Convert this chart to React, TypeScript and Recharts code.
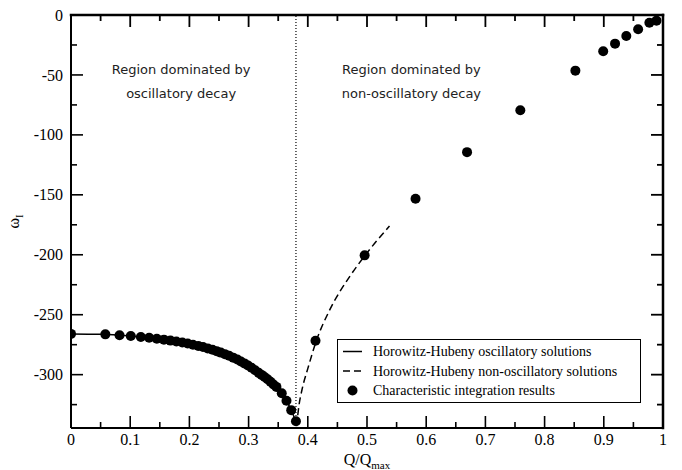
import React from 'react'
import { ComposedChart, Line, Scatter, XAxis, YAxis, ReferenceLine, ReferenceDot, Legend } from 'recharts'

// axis ticks
const xMajor = [0, 0.1, 0.2, 0.3, 0.4, 0.5, 0.6, 0.7, 0.8, 0.9, 1]
const xMinor = [0.05, 0.15, 0.25, 0.35, 0.45, 0.55, 0.65, 0.75, 0.85, 0.95]
const yMajor = [-300, -250, -200, -150, -100, -50, 0]
const yMinor = [-325, -275, -225, -175, -125, -75, -25]

// characteristic integration results
const integrationQ = [
  0, 0.058, 0.082, 0.101, 0.118, 0.132, 0.145, 0.157, 0.168, 0.178, 0.188, 0.197, 0.206, 0.215, 0.223,
  0.231, 0.239, 0.246, 0.253, 0.26, 0.267, 0.274, 0.281, 0.287, 0.293, 0.299, 0.305, 0.311, 0.317, 0.322,
  0.327, 0.332, 0.337, 0.342, 0.347, 0.356, 0.364, 0.372, 0.38, 0.413, 0.496, 0.582, 0.669, 0.759, 0.852,
  0.899, 0.919, 0.938, 0.958, 0.977, 0.989,
]
const integrationOmega = [
  -266, -266.4, -267.2, -267.8, -268.6, -269.2, -270, -270.8, -271.6, -272.4, -273.2, -274, -275, -276, -277,
  -278.1, -279.3, -280.4, -281.6, -282.9, -284.3, -285.8, -287.4, -289, -290.6, -292.4, -294.3, -296.3, -298.5, -300.2,
  -301.9, -303.8, -305.9, -308.2, -310.2, -315.5, -321.8, -329.6, -338.9, -271.7, -200.5, -153.3, -114.4, -79.4, -46.4,
  -30.3, -23.9, -17.5, -11.9, -6.4, -4.7,
]

// Horowitz-Hubeny oscillatory branch
const oscQ = [0, 0.05, 0.1, 0.15, 0.2, 0.25, 0.28, 0.3, 0.32, 0.33, 0.34, 0.35, 0.36, 0.37, 0.375, 0.381]
const oscOmega = [-266, -266.3, -267.8, -270.3, -274.3, -281, -287.2, -292.8, -299.6, -303.3, -307.6, -312.5, -318.7, -327.5, -333, -342]

// Horowitz-Hubeny non-oscillatory branch
const nonOscQ = [0.381, 0.385, 0.39, 0.4, 0.415, 0.437, 0.471, 0.496, 0.538]
const nonOscOmega = [-343, -326, -313, -295, -271, -246, -218, -201, -176]

const transitionQ = 0.38

const regionQ = [0.186, 0.575]
const regionLines = [
  ['Region dominated by', 'oscillatory decay'],
  ['Region dominated by', 'non-oscillatory decay'],
]

const legendLabels = [
  'Horowitz-Hubeny oscillatory solutions',
  'Horowitz-Hubeny non-oscillatory solutions',
  'Characteristic integration results',
]

const integrationData = integrationQ.map((q, i) => ({ x: q, y: integrationOmega[i] }))
const oscData = oscQ.map((q, i) => ({ x: q, y: oscOmega[i] }))
const nonOscData = nonOscQ.map((q, i) => ({ x: q, y: nonOscOmega[i] }))
const xTicks = [...xMajor, ...xMinor].sort((a, b) => a - b)
const yTicks = [...yMajor, ...yMinor].sort((a, b) => a - b)

const W = 682
const H = 470
const MARGIN = { top: 15, right: 19, bottom: 12, left: 11 }
const PLOT_TOP = MARGIN.top
const PLOT_RIGHT = W - MARGIN.right

const serif = '"Liberation Serif", "Times New Roman", serif'
const INK = '#000'
const FRAME_W = 2
const EDGE_W = 2.5
const TICK_W = 1.6
const AXIS = { stroke: INK, strokeWidth: FRAME_W }
const MAJOR = 12
const MINOR = 6

const isMajorX = (v: number) => xMajor.some((m) => Math.abs(m - v) < 1e-9)
const isMajorY = (v: number) => yMajor.includes(v)

// bottom tick + mirrored tick on the top edge
function BottomTick(props: any) {
  const { x, y, payload } = props
  const len = isMajorX(payload.value) ? MAJOR : MINOR
  return (
    <g>
      <line x1={x} x2={x} y1={y} y2={y - len} stroke={INK} strokeWidth={TICK_W} />
      <rect x={x - 0.9} y={PLOT_TOP} width={1.8} height={len} fill={INK} />
      {len === MAJOR && (
        <text x={x} y={y + 17} textAnchor="middle" fontFamily={serif} fontSize={16} fill={INK}>
          {String(payload.value)}
        </text>
      )}
    </g>
  )
}

// left tick + mirrored tick on the right edge
function LeftTick(props: any) {
  const { x, y, payload } = props
  const len = isMajorY(payload.value) ? MAJOR : MINOR
  return (
    <g>
      <line x1={x} x2={x + len} y1={y} y2={y} stroke={INK} strokeWidth={TICK_W} />
      <rect x={PLOT_RIGHT - len} y={y - 0.9} width={len} height={1.8} fill={INK} />
      {len === MAJOR && (
        <text x={x - 8} y={y} dy="0.35em" textAnchor="end" fontFamily={serif} fontSize={16} fill={INK}>
          {String(payload.value)}
        </text>
      )}
    </g>
  )
}

const Dot = (props: any) => <circle cx={props.cx} cy={props.cy} r={5} fill={INK} />

function LegendBox() {
  const rows = [12.5, 32, 51.5]
  return (
    <svg width={304} height={64} style={{ display: 'block' }}>
      <rect x={0.5} y={0.5} width={303} height={63} fill="#fff" stroke={INK} strokeWidth={1} />
      <line x1={6} x2={25} y1={rows[0]} y2={rows[0]} stroke={INK} strokeWidth={1.5} />
      <line x1={6} x2={25} y1={rows[1]} y2={rows[1]} stroke={INK} strokeWidth={1.5} strokeDasharray="7 4" />
      <circle cx={15.5} cy={rows[2]} r={5} fill={INK} />
      {legendLabels.map((t, i) => (
        <text key={t} x={36} y={rows[i]} dy="0.35em" fontFamily={serif} fontSize={14} fill={INK}>
          {t}
        </text>
      ))}
    </svg>
  )
}

function RegionLabel(lines: string[]) {
  return (props: any) => {
    const { viewBox } = props
    const cx = viewBox.x + viewBox.width / 2
    const cy = viewBox.y + viewBox.height / 2
    return (
      <text textAnchor="middle" fontFamily='"DejaVu Sans", sans-serif' fontSize={13} fill="#222">
        <tspan x={cx} y={cy} dy="0.35em">{lines[0]}</tspan>
        <tspan x={cx} y={cy + 24} dy="0.35em">{lines[1]}</tspan>
      </text>
    )
  }
}

function YTitle(props: any) {
  const { viewBox } = props
  const cx = viewBox.x + 8
  const cy = viewBox.y + viewBox.height / 2
  return (
    <text transform={`translate(${cx},${cy}) rotate(-90)`} textAnchor="middle" fontFamily={serif} fontSize={16} fill={INK}>
      ω<tspan fontSize={11} dy={4}>I</tspan>
    </text>
  )
}

// x title, plus the top and right edges of the frame (filled bars)
function XTitle(props: any) {
  const { viewBox } = props
  const cx = viewBox.x + viewBox.width / 2
  const right = viewBox.x + viewBox.width
  const h = EDGE_W / 2
  return (
    <g>
      <rect x={viewBox.x - h} y={PLOT_TOP - h} width={viewBox.width + EDGE_W} height={EDGE_W} fill={INK} />
      <rect x={right - h} y={PLOT_TOP - h} width={EDGE_W} height={viewBox.y - PLOT_TOP + EDGE_W} fill={INK} />
      <text x={cx} y={viewBox.y + 37} textAnchor="middle" fontFamily={serif} fontSize={16} fill={INK}>
        Q/Q<tspan fontSize={11} dy={4}>max</tspan>
      </text>
    </g>
  )
}

export default function App() {
  return (
    <div style={{ position: 'absolute', left: 0, top: 0, background: '#fff' }}>
      <ComposedChart width={W} height={H} margin={MARGIN}>
        <XAxis
          dataKey="x"
          type="number"
          domain={[0, 1]}
          ticks={xTicks}
          interval={0}
          allowDataOverflow
          axisLine={AXIS}
          tickLine={false}
          tickSize={0}
          tickMargin={0}
          tick={<BottomTick />}
          height={30}
          label={<XTitle />}
        />
        <YAxis
          dataKey="y"
          type="number"
          domain={[-344.5, 0]}
          ticks={yTicks}
          interval={0}
          allowDataOverflow
          axisLine={AXIS}
          tickLine={false}
          tickSize={0}
          tickMargin={0}
          tick={<LeftTick />}
          width={60}
          label={<YTitle />}
        />
        <ReferenceLine x={transitionQ} stroke={INK} strokeWidth={1.2} strokeDasharray="1 2" />
        {regionQ.map((q, i) => (
          <ReferenceDot
            key={q}
            x={q}
            y={-45.8}
            r={0}
            fill="none"
            stroke="none"
            ifOverflow="visible"
            label={RegionLabel(regionLines[i])}
          />
        ))}
        <Line
          data={oscData}
          dataKey="y"
          type="monotone"
          stroke={INK}
          strokeWidth={1.5}
          dot={false}
          activeDot={false}
          isAnimationActive={false}
          legendType="none"
        />
        <Line
          data={nonOscData}
          dataKey="y"
          type="monotone"
          stroke={INK}
          strokeWidth={1.5}
          strokeDasharray="7 4"
          dot={false}
          activeDot={false}
          isAnimationActive={false}
          legendType="none"
        />
        <Scatter data={integrationData} fill={INK} shape={<Dot />} isAnimationActive={false} legendType="none" />
        <Legend
          layout="vertical"
          align="center"
          verticalAlign="middle"
          content={() => <LegendBox />}
          wrapperStyle={{ left: 337, top: 339, width: 304, height: 64 }}
        />
      </ComposedChart>
    </div>
  )
}
